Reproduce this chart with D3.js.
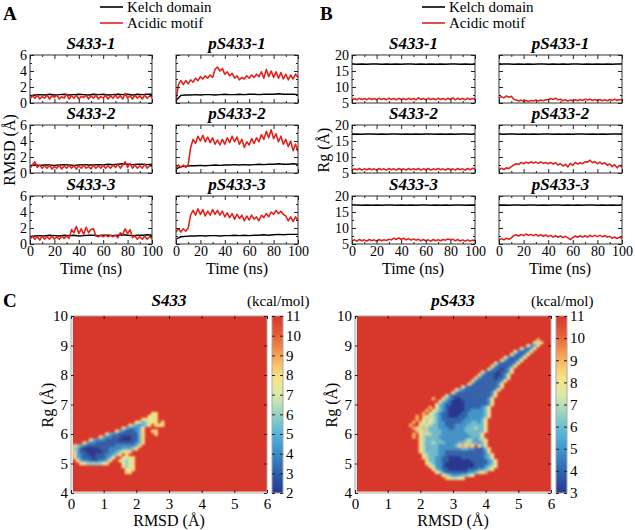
<!DOCTYPE html>
<html>
<head>
<meta charset="utf-8">
<script src="https://cdn.jsdelivr.net/npm/d3@7"></script>
<style>
  body { margin: 0; background: #fff; }
  #fig text { font-family: "Liberation Serif", "Times New Roman", serif !important; }
</style>
</head>
<body>
<svg id="fig" width="635" height="530"></svg>
<script>
// sampling times (ns)
var time2 = [0,2,4,6,8,10,12,14,16,18,20,22,24,26,28,30,32,34,36,38,40,42,44,46,48,50,
  52,54,56,58,60,62,64,66,68,70,72,74,76,78,80,82,84,86,88,90,92,94,96,98,100];
var time4 = [0,4,8,12,16,20,24,28,32,36,40,44,48,52,56,60,64,68,72,76,80,84,88,92,96,100];

// panel A: RMSD (Å), Kelch domain on time4, acidic motif on time2
var rmsdKelchS1 = [0.9,1.0,1.05,1.0,1.1,1.0,1.05,1.1,1.0,1.05,1.1,1.05,1.0,1.1,1.05,1.1,1.0,1.05,1.1,1.05,1.1,1.0,1.1,1.05,1.1,1.1];
var rmsdKelchS2 = [0.9,1.0,0.95,1.0,1.0,0.95,1.0,1.05,1.0,0.95,1.0,1.05,1.0,1.0,1.05,1.0,1.1,1.05,1.1,1.15,1.1,1.05,1.1,1.1,1.05,1.1];
var rmsdKelchS3 = [0.9,1.0,1.05,1.0,1.1,1.05,1.0,1.1,1.05,1.1,1.0,1.05,1.1,1.1,1.05,1.1,1.1,1.05,1.1,1.15,1.1,1.05,1.1,1.1,1.15,1.1];
var rmsdKelchP1 = [0.3,0.95,1.0,1.0,1.05,1.0,1.05,1.05,1.0,1.05,1.1,1.05,1.05,1.1,1.05,1.1,1.1,1.05,1.1,1.1,1.1,1.15,1.1,1.1,1.1,1.05];
var rmsdKelchP2 = [0.5,0.8,0.85,0.9,0.9,0.95,0.9,0.95,1.0,0.95,1.0,1.0,1.05,1.0,1.05,1.0,1.05,1.1,1.05,1.1,1.1,1.15,1.1,1.1,1.15,1.1];
var rmsdKelchP3 = [0.6,0.9,0.95,1.0,1.0,1.05,1.0,1.05,1.05,1.0,1.05,1.05,1.1,1.05,1.1,1.05,1.1,1.1,1.15,1.1,1.15,1.2,1.15,1.2,1.2,1.2];

var rmsdAcidS1 = [0.5,0.9,0.6,1.0,0.5,0.8,0.6,1.0,0.5,0.9,
  0.7,1.0,0.5,0.8,0.6,1.1,0.5,0.9,0.6,1.0,
  0.5,0.8,0.7,1.0,0.5,0.9,0.6,1.0,0.5,0.8,
  0.6,1.0,0.5,0.9,0.6,1.0,0.6,0.9,0.5,1.2,
  0.6,0.9,0.5,1.0,0.6,0.9,0.5,1.0,0.6,0.9,0.7];
var rmsdAcidS2 = [0.6,1.0,1.4,0.7,1.0,0.6,0.9,0.6,1.0,0.5,
  0.8,0.6,1.0,0.5,0.9,0.6,1.0,0.6,0.9,0.5,
  0.9,0.6,1.0,0.6,0.8,0.5,1.0,0.6,0.9,0.6,
  1.0,0.6,0.9,0.6,1.0,0.7,1.1,0.6,1.0,1.4,
  0.7,1.2,0.6,1.0,0.6,0.9,0.6,1.1,0.6,0.9,0.8];
var rmsdAcidS3 = [0.6,1.0,0.6,0.9,0.5,1.0,0.6,0.9,0.6,1.0,
  0.6,0.9,0.6,1.0,0.7,1.0,0.7,1.8,1.4,2.2,
  1.3,1.9,1.2,2.1,1.4,1.8,1.9,1.0,0.9,1.1,
  0.9,1.1,0.9,1.1,0.9,1.1,0.8,1.4,1.2,1.9,
  1.3,1.8,0.8,1.0,0.6,0.9,0.6,1.0,0.6,0.9,0.7];
var rmsdAcidP1 = [0.4,2.3,2.8,2.3,2.8,2.4,2.9,2.6,3.1,2.8,
  3.3,3.0,3.4,3.1,3.5,3.2,4.2,4.5,4.0,4.3,
  3.6,3.9,3.4,3.7,3.1,3.4,2.9,3.2,3.0,3.4,
  3.1,3.5,3.2,3.6,3.3,3.9,3.1,4.2,3.3,4.0,
  3.2,3.9,3.1,3.8,3.0,3.6,2.9,3.5,3.0,3.6,3.2];
var rmsdAcidP2 = [0.6,1.0,0.7,1.0,0.7,1.0,3.2,4.2,3.7,4.6,
  4.0,4.7,3.9,4.5,3.8,4.4,3.6,4.1,3.5,4.2,
  3.6,4.4,3.8,4.6,3.9,4.5,3.6,4.2,3.2,3.9,
  3.5,4.3,3.7,4.4,3.9,4.8,4.2,5.2,4.4,5.4,
  4.3,4.9,3.9,4.6,3.6,4.2,3.3,4.0,2.8,3.6,2.7];
var rmsdAcidP3 = [1.5,1.9,1.5,1.9,1.6,2.0,3.6,4.2,3.6,4.4,
  3.7,4.3,3.5,4.1,3.6,4.3,3.7,4.2,3.6,4.1,
  3.4,3.9,3.3,3.8,3.1,3.7,3.2,3.6,2.9,3.5,
  3.0,3.6,3.1,3.4,2.9,3.6,3.3,3.8,3.4,4.0,
  3.7,4.2,3.8,4.1,3.7,3.5,2.9,3.4,2.8,3.4,2.9];

// panel B: Rg (Å)
var rgKelchS1 = [17.2,17.1,17.2,17.1,17.2,17.2,17.1,17.2,17.1,17.2,17.1,17.2,17.2,17.1,17.2,17.1,17.2,17.1,17.2,17.1,17.2,17.2,17.1,17.2,17.1,17.1];
var rgKelchS2 = [17.1,17.2,17.1,17.2,17.2,17.1,17.2,17.1,17.2,17.2,17.1,17.2,17.1,17.2,17.1,17.2,17.2,17.1,17.2,17.1,17.2,17.1,17.2,17.2,17.1,17.2];
var rgKelchS3 = [17.2,17.2,17.1,17.2,17.1,17.2,17.1,17.2,17.2,17.1,17.2,17.1,17.2,17.1,17.2,17.2,17.1,17.2,17.1,17.2,17.1,17.2,17.2,17.1,17.2,17.1];
var rgKelchP1 = [17.1,17.2,17.2,17.1,17.2,17.1,17.2,17.1,17.2,17.2,17.1,17.2,17.1,17.2,17.1,17.2,17.2,17.1,17.2,17.1,17.2,17.1,17.2,17.1,17.2,17.2];
var rgKelchP2 = [17.2,17.1,17.2,17.2,17.1,17.2,17.1,17.2,17.1,17.2,17.2,17.1,17.2,17.1,17.2,17.1,17.2,17.2,17.1,17.2,17.1,17.2,17.1,17.2,17.2,17.1];
var rgKelchP3 = [17.1,17.2,17.1,17.2,17.2,17.1,17.2,17.2,17.1,17.2,17.1,17.2,17.2,17.1,17.2,17.1,17.2,17.1,17.2,17.2,17.1,17.2,17.1,17.2,17.1,17.2];

var rgAcidS1 = [5.9,6.4,6.0,6.5,6.1,6.4,6.0,6.5,6.1,6.4,
  6.0,6.5,6.1,6.4,6.0,6.5,6.1,6.4,6.0,6.5,
  6.1,6.4,6.0,6.5,6.1,6.4,6.0,6.6,6.1,6.4,
  6.0,6.5,6.1,6.4,6.0,6.5,6.1,6.4,6.0,6.5,
  6.1,6.6,6.0,6.5,6.1,6.4,6.0,6.5,6.1,6.4,6.2];
var rgAcidS2 = [5.9,6.3,6.0,6.4,5.9,6.3,6.0,6.4,6.0,6.3,
  5.9,6.4,6.0,6.3,5.9,6.4,6.0,6.3,5.9,6.4,
  6.0,6.3,5.9,6.4,6.0,6.3,6.0,6.4,5.9,6.3,
  6.0,6.4,5.9,6.3,6.0,6.4,6.0,6.3,5.9,6.4,
  6.0,6.3,5.9,6.4,6.0,6.3,5.9,6.4,6.0,6.5,6.2];
var rgAcidS3 = [6.0,6.3,5.9,6.4,6.0,6.3,5.9,6.4,6.0,6.3,
  5.9,6.4,6.0,6.3,6.1,6.5,6.3,6.8,6.4,6.9,
  6.4,6.8,6.3,6.7,6.2,6.6,6.2,6.5,6.0,6.4,
  6.0,6.3,5.9,6.4,6.0,6.3,6.0,6.4,6.2,6.6,
  6.3,6.5,6.0,6.4,5.9,6.3,5.9,6.3,5.9,6.2,6.1];
var rgAcidP1 = [6.5,7.0,6.6,7.2,6.8,7.1,6.2,5.9,5.6,5.9,
  5.5,5.8,5.5,5.8,5.6,5.9,5.6,5.9,5.7,6.0,
  6.0,6.4,6.1,6.5,6.0,6.2,5.7,6.0,5.6,5.9,
  5.7,6.0,5.7,6.1,5.8,6.2,5.9,6.2,5.8,6.1,
  5.8,6.1,5.7,6.0,5.7,6.1,5.8,6.2,5.8,6.1,5.9];
var rgAcidP2 = [6.0,6.5,6.1,6.6,6.4,7.0,7.5,7.9,7.7,8.3,
  7.9,8.4,8.0,8.5,8.1,8.4,8.0,8.5,8.0,8.3,
  7.9,8.3,7.8,8.2,7.5,7.9,7.2,7.7,6.9,8.0,
  7.4,8.3,7.8,8.2,7.9,8.5,8.4,9.0,8.2,8.6,
  7.9,8.4,7.8,8.2,7.4,7.8,7.0,7.6,6.6,7.4,6.8];
var rgAcidP3 = [6.2,6.7,6.3,6.8,6.5,6.9,7.6,7.9,7.5,8.0,
  7.6,8.1,7.7,8.0,7.6,8.0,7.5,7.9,7.4,7.8,
  7.3,7.7,7.2,7.6,7.1,7.5,7.0,7.4,6.9,6.4,
  7.0,7.5,7.1,7.6,7.2,7.6,7.2,7.7,7.3,7.7,
  7.3,7.7,7.3,7.6,7.2,7.4,6.8,7.2,6.7,7.1,6.8];

var legendLabels = ["Kelch domain", "Acidic motif"];
var runTitles = ["S433-1", "pS433-1", "S433-2", "pS433-2", "S433-3", "pS433-3"];
var timeTicks = [0, 20, 40, 60, 80, 100];
var timeMinor = [10, 30, 50, 70, 90];
var rmsdTicks = [0, 2, 4, 6];
var rmsdMinor = [1, 3, 5];
var rgTicks = [5, 10, 15, 20];
var rgMinor = [7.5, 12.5, 17.5];

// panel C: free energy (kcal/mol) on 0.1 Å bins.
// one string per Rg row going down from rgTop; start = first RMSD bin (x10);
// digits are energies, "." is the top of the scale
var s433RgTop = 6.7;
var s433Start = [25,24,22,20,18,16,14,11,9,6,4,1,0,1,1,1,2,3,16,17,17];
var s433Cells = [
  "88",
  "878",
  "88788",
  "8756788.8",
  "8654568.888",
  "8544458",
  "854333458..88",
  "854433333358...8",
  "85443332223358",
  "85444333322223358",
  "8544333333333333458",
  "865433333333344444458",
  "865322222333444455568",
  "853322222334456788",
  "854332233344568.8",
  "8543332333458..7778",
  "85443334458..87678",
  "876666678....7678",
  "8678",
  "878",
  "88"
];

var ps433RgTop = 9.2;
var ps433Start = [56,55,53,51,49,48,46,45,43,42,41,39,38,37,36,35,33,31,30,28,24,26,25,23,22,21,19,19,18,17,18,19,18,18,20,20,20,20,20,21,21,22,22,23,24,25,27,28];
var ps433Cells = [
  "9",
  "878",
  "8558",
  "85458",
  "854458",
  "854458",
  "8544458",
  "8544458",
  "85444458",
  "85444458",
  "85443458",
  "8544434458",
  "8544433458",
  "85444434458",
  "85444444458",
  "85444444458",
  "8544444444458",
  "86544444444458",
  "85444444444458",
  "8544444444444458",
  "9..8654334444444458",
  "86543333444444458",
  "865443333444444458",
  "9.86543333344444568",
  "9.876543333344555568",
  "9.8765443333445555568",
  "9.987765443334445555568",
  "9.87876544444445555568",
  "9.987876554444455566568",
  "9..878766554445555666668",
  "98797666555445556667668",
  "9877666655555556666668",
  "9.87876665555555566668",
  "9.87666655555555556668",
  "876666655555556765678",
  "876676665555667766568",
  "87666655555689898.868",
  "8766665555555665544468",
  "8766665544444444444458",
  "8766655444444444444568",
  "8766554433334444444568",
  "8665544333333344444568",
  "8765543333333334444568",
  "875543333333334445678",
  "8654433333344455678",
  "8754444444556789",
  "8765556678",
  "987788"
];

var mapTicks = [0, 1, 2, 3, 4, 5, 6];
var mapRgTicks = [4, 5, 6, 7, 8, 9, 10];
var s433Bar = [2, 3, 4, 5, 6, 7, 8, 9, 10, 11];
var ps433Bar = [3, 4, 5, 6, 7, 8, 9, 10, 11];
var mapStops = ["#283891", "#2d5fab", "#3a8dc6", "#53b3dc", "#96d2c0",
  "#dcebaa", "#fae17f", "#f5a353", "#e65f38", "#d8372b"];

var svg = d3.select("#fig");
var serif = '"Liberation Serif", "Times New Roman", serif';
var red = "#e0231c";
var ink = "#222";
var defs = svg.append("defs");

function txt(x, y, s, size, o) {
  o = o || {};
  return svg.append("text")
    .attr("x", x)
    .attr("y", y)
    .attr("font-family", serif)
    .attr("font-size", size)
    .attr("font-weight", o.bold ? "bold" : null)
    .attr("font-style", o.italic ? "italic" : null)
    .attr("text-anchor", o.anchor || "start")
    .attr("transform", o.rotate ? "rotate(-90," + x + "," + y + ")" : null)
    .text(s);
}

function axisLayer(g, axis, tr, size) {
  var a = g
    .append("g")
    .attr("transform", tr)
    .call(axis)
    .attr("font-family", serif)
    .attr("font-size", size || 14)
    .attr("color", ink);
  a.select(".domain").remove();
  a.selectAll("text").attr("fill", "#000");
  return a;
}

// one time trace panel
function tracePanel(p, id) {
  var h = 48;
  var x = d3.scaleLinear().domain([0, 100]).range([p.x, p.x + p.w]);
  var y = d3.scaleLinear().domain(p.domain).range([p.y + h, p.y]);
  var g = svg.append("g");

  g.append("clipPath")
    .attr("id", id)
    .append("rect")
    .attr("x", p.x)
    .attr("y", p.y)
    .attr("width", p.w)
    .attr("height", h);

  var line = d3.line().x(d => x(d[0])).y(d => y(d[1]));
  var lines = g.append("g").attr("clip-path", "url(#" + id + ")");
  lines.append("path")
    .datum(d3.zip(time4, p.kelch))
    .attr("d", line)
    .attr("fill", "none")
    .attr("stroke", "#000")
    .attr("stroke-width", 1.4);
  lines.append("path")
    .datum(d3.zip(time2, p.acid))
    .attr("d", line)
    .attr("fill", "none")
    .attr("stroke", red)
    .attr("stroke-width", 1.6)
    .attr("stroke-linejoin", "round");

  g.append("rect")
    .attr("x", p.x)
    .attr("y", p.y)
    .attr("width", p.w)
    .attr("height", h)
    .attr("fill", "none")
    .attr("stroke", "#333");

  var fx = p.showX ? d3.format("d") : "";
  var fy = p.showY ? d3.format("d") : "";
  axisLayer(g, d3.axisBottom(x).tickValues(timeTicks).tickSize(-4).tickPadding(2).tickFormat(fx), "translate(0," + (p.y + h) + ")");
  axisLayer(g, d3.axisBottom(x).tickValues(timeMinor).tickSize(-2).tickFormat(""), "translate(0," + (p.y + h) + ")");
  axisLayer(g, d3.axisTop(x).tickValues(timeTicks).tickSize(-4).tickFormat(""), "translate(0," + p.y + ")");
  axisLayer(g, d3.axisTop(x).tickValues(timeMinor).tickSize(-2).tickFormat(""), "translate(0," + p.y + ")");
  axisLayer(g, d3.axisLeft(y).tickValues(p.ticks).tickSize(-4).tickPadding(3).tickFormat(fy), "translate(" + p.x + ",0)");
  axisLayer(g, d3.axisLeft(y).tickValues(p.minor).tickSize(-2).tickFormat(""), "translate(" + p.x + ",0)");
  axisLayer(g, d3.axisRight(y).tickValues(p.ticks).tickSize(-4).tickFormat(""), "translate(" + (p.x + p.w) + ",0)");
  axisLayer(g, d3.axisRight(y).tickValues(p.minor).tickSize(-2).tickFormat(""), "translate(" + (p.x + p.w) + ",0)");

  txt(p.x + p.w / 2, p.y - 6, p.title, 17, { bold: true, italic: true, anchor: "middle" });
}

var rowTop = [55, 125, 196];
var rmsdRuns = [
  [rmsdKelchS1, rmsdAcidS1], [rmsdKelchP1, rmsdAcidP1],
  [rmsdKelchS2, rmsdAcidS2], [rmsdKelchP2, rmsdAcidP2],
  [rmsdKelchS3, rmsdAcidS3], [rmsdKelchP3, rmsdAcidP3]
];
var rgRuns = [
  [rgKelchS1, rgAcidS1], [rgKelchP1, rgAcidP1],
  [rgKelchS2, rgAcidS2], [rgKelchP2, rgAcidP2],
  [rgKelchS3, rgAcidS3], [rgKelchP3, rgAcidP3]
];

rmsdRuns.forEach(function(r, k) {
  tracePanel({
    x: [30, 176][k % 2], y: rowTop[k >> 1], w: 122,
    domain: [0, 6], ticks: rmsdTicks, minor: rmsdMinor,
    title: runTitles[k], kelch: r[0], acid: r[1],
    showY: k % 2 === 0, showX: k >= 4
  }, "clipA" + k);
});

rgRuns.forEach(function(r, k) {
  tracePanel({
    x: [352, 499][k % 2], y: rowTop[k >> 1], w: 123,
    domain: [5, 20], ticks: rgTicks, minor: rgMinor,
    title: runTitles[k], kelch: r[0], acid: r[1],
    showY: k % 2 === 0, showX: k >= 4
  }, "clipB" + k);
});

// legends
[[100, 127], [422, 449]].forEach(function(pos) {
  legendLabels.forEach(function(label, i) {
    var ly = 7 + i * 16;
    svg.append("line")
      .attr("x1", pos[0]).attr("x2", pos[0] + 23)
      .attr("y1", ly).attr("y2", ly)
      .attr("stroke", i === 0 ? "#000" : red)
      .attr("stroke-width", 1.6);
    txt(pos[1], ly + 5, label, 15);
  });
});

txt(15, 150, "RMSD (\u00c5)", 16, { anchor: "middle", rotate: true });
txt(329, 150, "Rg (\u00c5)", 16, { anchor: "middle", rotate: true });
[91, 237, 413, 560].forEach(function(cx) {
  txt(cx, 274, "Time (ns)", 16, { anchor: "middle" });
});

txt(3, 20, "A", 19, { bold: true });
txt(320, 20, "B", 19, { bold: true });
txt(3, 307, "C", 19, { bold: true });

// free energy maps
defs.append("filter")
  .attr("id", "soft")
  .attr("x", "-5%").attr("y", "-5%")
  .attr("width", "110%").attr("height", "110%")
  .append("feGaussianBlur")
  .attr("stdDeviation", 0.8);

function energyMap(m, k) {
  var x = d3.scaleLinear().domain([0, 6]).range([m.x, m.x + 196]);
  var y = d3.scaleLinear().domain([4, 10]).range([493, 316]);
  var color = d3.scaleSequential([m.lo, m.hi], d3.piecewise(d3.interpolateRgb, mapStops));

  var cells = [];
  m.cells.forEach(function(row, j) {
    var rg = (Math.round(m.rgTop * 10) - j) / 10;
    row.split("").forEach(function(ch, i) {
      if (ch !== ".") cells.push({ rmsd: (m.start[j] + i) / 10, rg: rg, e: +ch });
    });
  });

  var g = svg.append("g");
  var id = "mapclip" + k;
  g.append("clipPath")
    .attr("id", id)
    .append("rect")
    .attr("x", x(0.05)).attr("y", y(10))
    .attr("width", x(6) - x(0.05)).attr("height", y(4.04) - y(10));

  var plot = g.append("g").attr("clip-path", "url(#" + id + ")");
  plot.append("rect")
    .attr("x", x(0.05)).attr("y", y(10))
    .attr("width", x(6) - x(0.05)).attr("height", y(4.04) - y(10))
    .attr("fill", color(m.hi));
  plot.append("g")
    .attr("filter", "url(#soft)")
    .selectAll("rect")
    .data(cells)
    .join("rect")
    .attr("x", d => x(d.rmsd - 0.05))
    .attr("y", d => y(d.rg + 0.05))
    .attr("width", x(0.1) - x(0) + 0.3)
    .attr("height", y(4) - y(4.1) + 0.3)
    .attr("fill", d => color(d.e));

  g.append("rect")
    .attr("x", m.x).attr("y", 316)
    .attr("width", 196).attr("height", 177)
    .attr("fill", "none")
    .attr("stroke", "#a8a8a8");

  axisLayer(g, d3.axisBottom(x).tickValues(mapTicks).tickSize(-3).tickPadding(5).tickFormat(d3.format("d")), "translate(0,493)", 15);
  axisLayer(g, d3.axisTop(x).tickValues(mapTicks).tickSize(-3).tickFormat(""), "translate(0,316)");
  axisLayer(g, d3.axisLeft(y).tickValues(mapRgTicks).tickSize(-3).tickPadding(3).tickFormat(d3.format("d")), "translate(" + m.x + ",0)", 15);
  axisLayer(g, d3.axisRight(y).tickValues(mapRgTicks).tickSize(-3).tickFormat(""), "translate(" + (m.x + 196) + ",0)");

  // colour bar
  var cb = m.x + 201;
  var cy = d3.scaleLinear().domain([m.lo, m.hi]).range([493, 316]);
  var grad = defs.append("linearGradient")
    .attr("id", "bar" + k)
    .attr("x1", 0).attr("y1", 1).attr("x2", 0).attr("y2", 0);
  d3.range(0, 1.0001, 0.05).forEach(function(t) {
    grad.append("stop")
      .attr("offset", t)
      .attr("stop-color", color(m.lo + t * (m.hi - m.lo)));
  });
  g.append("rect")
    .attr("x", cb).attr("y", 316)
    .attr("width", 11).attr("height", 177)
    .attr("fill", "url(#bar" + k + ")")
    .attr("stroke", "#a8a8a8");
  axisLayer(g, d3.axisRight(cy).tickValues(m.bar).tickSize(-3).tickPadding(3).tickFormat(d3.format("d")), "translate(" + (cb + 11) + ",0)", 15);
  axisLayer(g, d3.axisLeft(cy).tickValues(m.bar).tickSize(-3).tickFormat(""), "translate(" + cb + ",0)");

  txt(m.x + 98, 306, m.title, 17, { bold: true, italic: true, anchor: "middle" });
  txt(m.x + 176, 306, "(kcal/mol)", 15);
  txt(m.x + 98, 526, "RMSD (\u00c5)", 16, { anchor: "middle" });
  txt(m.x - 18, 405, "Rg (\u00c5)", 16, { anchor: "middle", rotate: true });
}

energyMap({ x: 71, title: "S433", lo: 2, hi: 11, bar: s433Bar,
  rgTop: s433RgTop, start: s433Start, cells: s433Cells }, 0);
energyMap({ x: 355, title: "pS433", lo: 3, hi: 11, bar: ps433Bar,
  rgTop: ps433RgTop, start: ps433Start, cells: ps433Cells }, 1);
</script>
</body>
</html>
